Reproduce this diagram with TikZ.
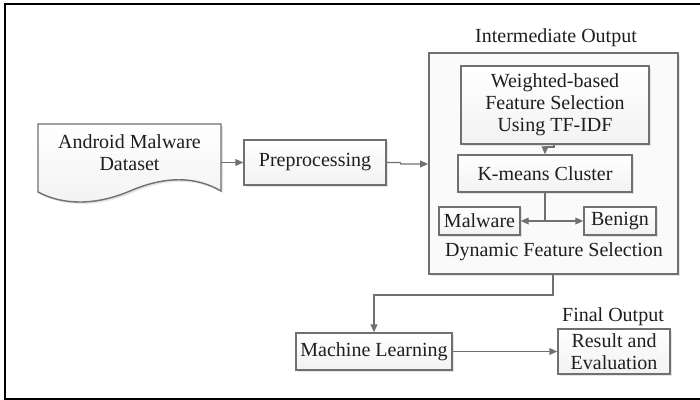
\documentclass[tikz,border=0pt]{standalone}
\usepackage{fontspec}
\setmainfont{Liberation Serif}
\usetikzlibrary{arrows.meta,shadows}
\definecolor{edge}{HTML}{707070}
\definecolor{ink}{HTML}{1E1E1E}
\tikzset{
  softshadow/.style={drop shadow={shadow xshift=1pt, shadow yshift=-1pt, fill=gray!40, opacity=0.5}},
  flowbox/.style={draw=edge, line width=0.7pt, top color=white, bottom color=gray!10,
    softshadow, text=ink, align=center, inner sep=0pt, font=\fontsize{10}{11}\selectfont},
  groupbox/.style={draw=edge, line width=0.8pt, fill=gray!4, softshadow, inner sep=0pt},
  caption/.style={text=ink, inner sep=0pt, font=\fontsize{10}{11}\selectfont, align=center},
  link/.style={draw=edge, line width=0.7pt, -{Triangle[length=4pt,width=3.4pt]}}
}
\begin{document}
\begin{tikzpicture}[x=0.5pt,y=-0.5pt]
\useasboundingbox (0,0) rectangle (700,400);
% outer frame
\draw[line width=1.3pt, black] (5,4) rectangle (706,399);

% data source drawn as a document shape
\path[draw=edge, line width=0.7pt, top color=white, bottom color=gray!10, softshadow]
  (38,124) -- (221,124) -- (221,191)
  .. controls (195,176) and (165,176) .. (130,191)
  .. controls (95,206) and (62,205) .. (38,192) -- cycle;
\node[caption, minimum width=91.5pt, minimum height=34pt] (doc) at (129.5,158) {};
\node[caption] at (129.5,152.5) {Android Malware\\Dataset};

\node[flowbox, minimum width=71pt, minimum height=22.5pt] (prep) at (315,162.5) {Preprocessing};

% intermediate stage
\node[groupbox, minimum width=124.5pt, minimum height=110.5pt] (inter) at (553.5,163.5) {};
\node[caption] (intercap) at (556,38) {Intermediate Output};
\node[flowbox, minimum width=94pt, minimum height=39pt] (weight) at (555,105)
  {Weighted-based\\Feature Selection\\Using TF-IDF};
\node[flowbox, minimum width=87pt, minimum height=18.5pt] (kmeans) at (545,173.5) {K-means Cluster};
\node[flowbox, minimum width=40.5pt, minimum height=14pt] (mal) at (479.5,221) {Malware};
\node[flowbox, minimum width=36pt, minimum height=14pt] (ben) at (620,221) {Benign};
\node[caption] (dyncap) at (554,252) {Dynamic Feature Selection};

% learning and results
\node[flowbox, minimum width=78pt, minimum height=18.5pt] (ml) at (374,351.5) {Machine Learning};
\node[flowbox, minimum width=56pt, minimum height=22.5pt] (res) at (614,351.5) {Result and\\Evaluation};
\node[caption] (finalcap) at (613,317) {Final Output};

% connectors
\draw[link] (doc.east |- prep.west) -- (prep.west);
\draw[link] (prep.east) -- (400,162.5) -- (401,164) -- (inter.west |- 0,164);
\draw[link] (weight.south -| 554,0) -- (554,147) -| (kmeans.north);
\draw[link] (kmeans.south) |- (mal.east);
\draw[link] (kmeans.south) |- (ben.west);
\draw[link] (inter.south -| 553,0) -- (553,295) -| (ml.north);
\draw[link] (ml.east) -- (res.west);
\end{tikzpicture}
\end{document}
